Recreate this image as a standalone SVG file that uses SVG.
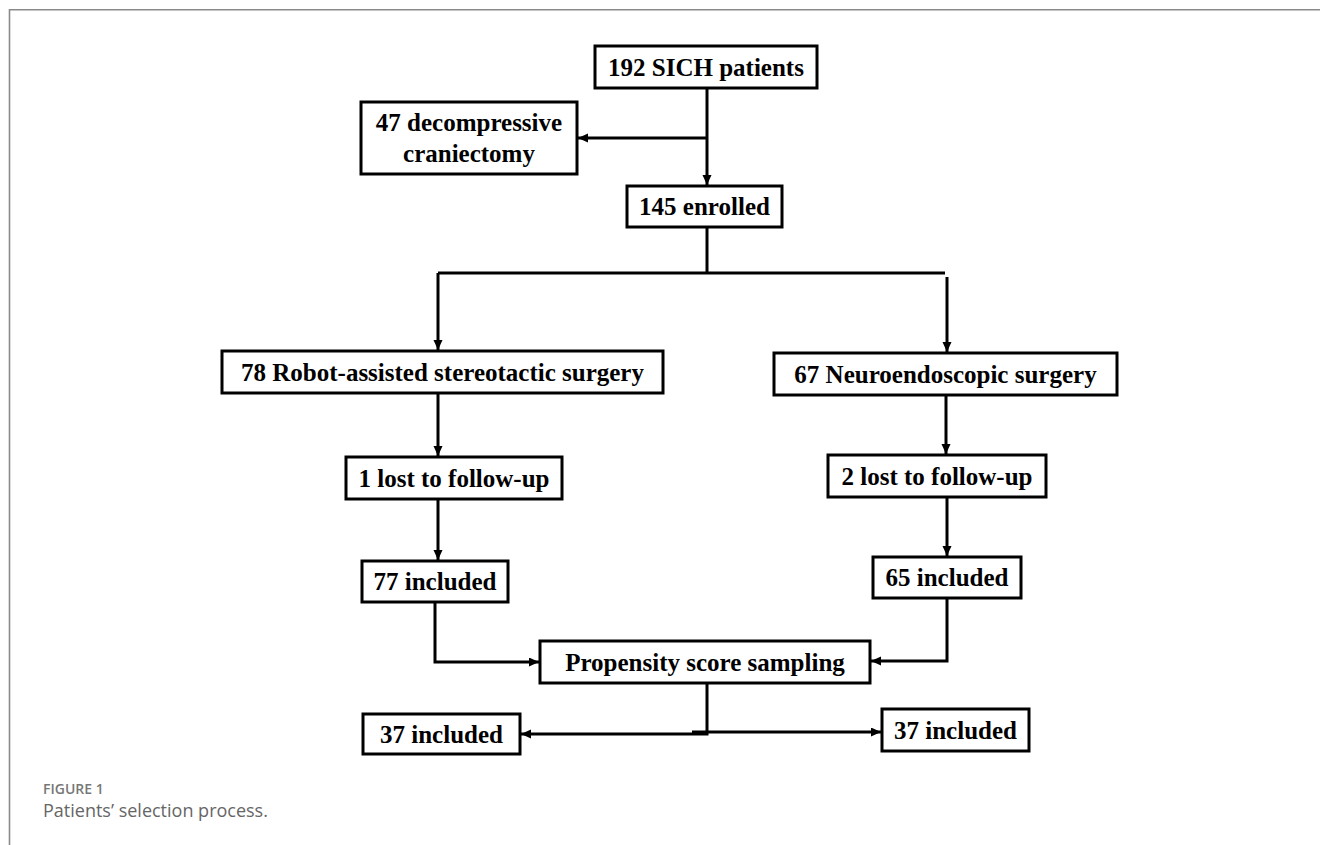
<svg xmlns="http://www.w3.org/2000/svg" width="1320" height="845" viewBox="0 0 1320 845">
<style>
.box{fill:#fff;stroke:#000;stroke-width:3}
.t{font-family:"Liberation Serif","Times New Roman",serif;font-weight:bold;font-size:25px;fill:#000;text-anchor:middle}
.c{fill:none;stroke:#000;stroke-width:3}
.frame{stroke:#8a8a8a;stroke-width:1.6;fill:none}
.cap1{font-family:"Open Sans","Liberation Sans",sans-serif;font-weight:600;font-size:14px;fill:#777}
.cap2{font-family:"Open Sans","Liberation Sans",sans-serif;font-size:18px;fill:#666}
</style>
<defs>
<marker id="ah" markerUnits="userSpaceOnUse" markerWidth="11" markerHeight="10" refX="10" refY="4.5" orient="auto">
<path d="M0,0 L10,4.5 L0,9 z" fill="#000"/>
</marker>
</defs>
<rect width="1320" height="845" fill="#fff"/>
<path class="frame" d="M9.5,845 V9.8 H1320"/>

<g id="connectors">
<path class="c" d="M707,88 V185" marker-end="url(#ah)"/>
<path class="c" d="M707,138 H578" marker-end="url(#ah)"/>
<path class="c" d="M707,227 V273"/>
<path class="c" d="M438,273 H945"/>
<path class="c" d="M438,273 V350" marker-end="url(#ah)"/>
<path class="c" d="M947,277 V352" marker-end="url(#ah)"/>
<path class="c" d="M438,393 V456" marker-end="url(#ah)"/>
<path class="c" d="M946,395 V454" marker-end="url(#ah)"/>
<path class="c" d="M438,499 V560" marker-end="url(#ah)"/>
<path class="c" d="M947,497 V556" marker-end="url(#ah)"/>
<path class="c" d="M435,602 V662 H539" marker-end="url(#ah)"/>
<path class="c" d="M947,598 V661 H871" marker-end="url(#ah)"/>
<path class="c" d="M707,683 V734 H521" marker-end="url(#ah)"/>
<path class="c" d="M692,732 H881" marker-end="url(#ah)"/>
</g>

<g id="n192">
<rect class="box" x="595" y="46" width="222" height="42"/>
<text class="t" x="706" y="76">192 SICH patients</text>
</g>
<g id="n47">
<rect class="box" x="361" y="102" width="216" height="72"/>
<text class="t" x="469" y="131">47 decompressive</text>
<text class="t" x="469" y="162">craniectomy</text>
</g>
<g id="n145">
<rect class="box" x="627" y="186" width="155" height="41"/>
<text class="t" x="704.5" y="215">145 enrolled</text>
</g>
<g id="nrobot">
<rect class="box" x="222" y="351" width="441" height="42"/>
<text class="t" x="442.5" y="381">78 Robot-assisted stereotactic surgery</text>
</g>
<g id="nneuro">
<rect class="box" x="774" y="353" width="343" height="42"/>
<text class="t" x="945.5" y="383">67 Neuroendoscopic surgery</text>
</g>
<g id="nlost1">
<rect class="box" x="346" y="457" width="216" height="42"/>
<text class="t" x="454" y="487">1 lost to follow-up</text>
</g>
<g id="nlost2">
<rect class="box" x="828" y="455" width="218" height="42"/>
<text class="t" x="937" y="485">2 lost to follow-up</text>
</g>
<g id="n77">
<rect class="box" x="362" y="561" width="146" height="41"/>
<text class="t" x="435" y="590">77 included</text>
</g>
<g id="n65">
<rect class="box" x="873" y="557" width="148" height="41"/>
<text class="t" x="947" y="586">65 included</text>
</g>
<g id="nprop">
<rect class="box" x="540" y="641" width="330" height="42"/>
<text class="t" x="705" y="671">Propensity score sampling</text>
</g>
<g id="n37a">
<rect class="box" x="363" y="714" width="157" height="40"/>
<text class="t" x="441.5" y="743">37 included</text>
</g>
<g id="n37b">
<rect class="box" x="882" y="709" width="147" height="42"/>
<text class="t" x="955.5" y="739">37 included</text>
</g>

<text class="cap1" x="43" y="794">FIGURE 1</text>
<text class="cap2" x="43" y="817">Patients’ selection process.</text>
</svg>
